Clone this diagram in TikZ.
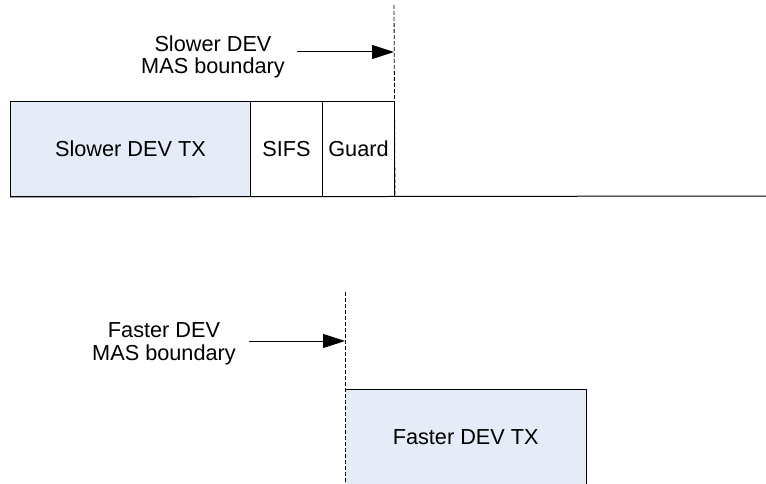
\documentclass[tikz,border=0pt]{standalone}
\usepackage{fontspec}
\setmainfont{Liberation Sans}
\usetikzlibrary{arrows.meta}
\definecolor{txblue}{HTML}{E6ECF7}
\begin{document}
\begin{tikzpicture}[x=1pt,y=-1pt,
  lbl/.style={font=\fontsize{21.7}{22.5}\selectfont, inner sep=0pt, align=center},
  slot/.style={draw=black, line width=1pt, inner sep=0pt, anchor=north west, minimum height=95pt, font=\fontsize{21.7}{22.5}\selectfont},
  boundline/.style={draw=black, line width=0.8pt, dash pattern=on 4pt off 2pt},
  pointer/.style={draw=black, line width=1pt, -{Triangle[length=22pt,width=14pt]}}
]
\useasboundingbox (0,0) rectangle (766,484);
% top row
\node[slot, fill=txblue, minimum width=240pt] (slowtx) at (10,101) {Slower DEV TX};
\node[slot, minimum width=72pt] (sifs) at (250,101) {SIFS};
\node[slot, minimum width=72pt] (guard) at (322,101) {Guard};
\coordinate (lineend) at (766,196);
\draw[line width=1pt] (slowtx.south west) -- (lineend);
\coordinate (sbtop) at (394,5);
\draw[boundline] (sbtop) -- (guard.south east);
\node[lbl] (slab) at (213,57) {Slower DEV\\MAS boundary};
\coordinate (sarrs) at (297,52);
\coordinate (sarre) at (394,52);
\draw[pointer] (sarrs) -- (sarre);
% bottom
\node[fill=txblue, inner sep=0pt, anchor=north west, minimum width=241pt, minimum height=95pt, font=\fontsize{21.7}{22.5}\selectfont] (fasttx) at (345,389) {Faster DEV TX};
\draw[line width=1pt] (fasttx.north west) -- (fasttx.north east) -- (fasttx.south east);
\coordinate (fbtop) at (345,292);
\draw[boundline] (fbtop) -- (fasttx.south west);
\node[lbl] (flab) at (164,344) {Faster DEV\\MAS boundary};
\coordinate (farrs) at (249,341);
\coordinate (farre) at (345,341);
\draw[pointer] (farrs) -- (farre);
\end{tikzpicture}
\end{document}
